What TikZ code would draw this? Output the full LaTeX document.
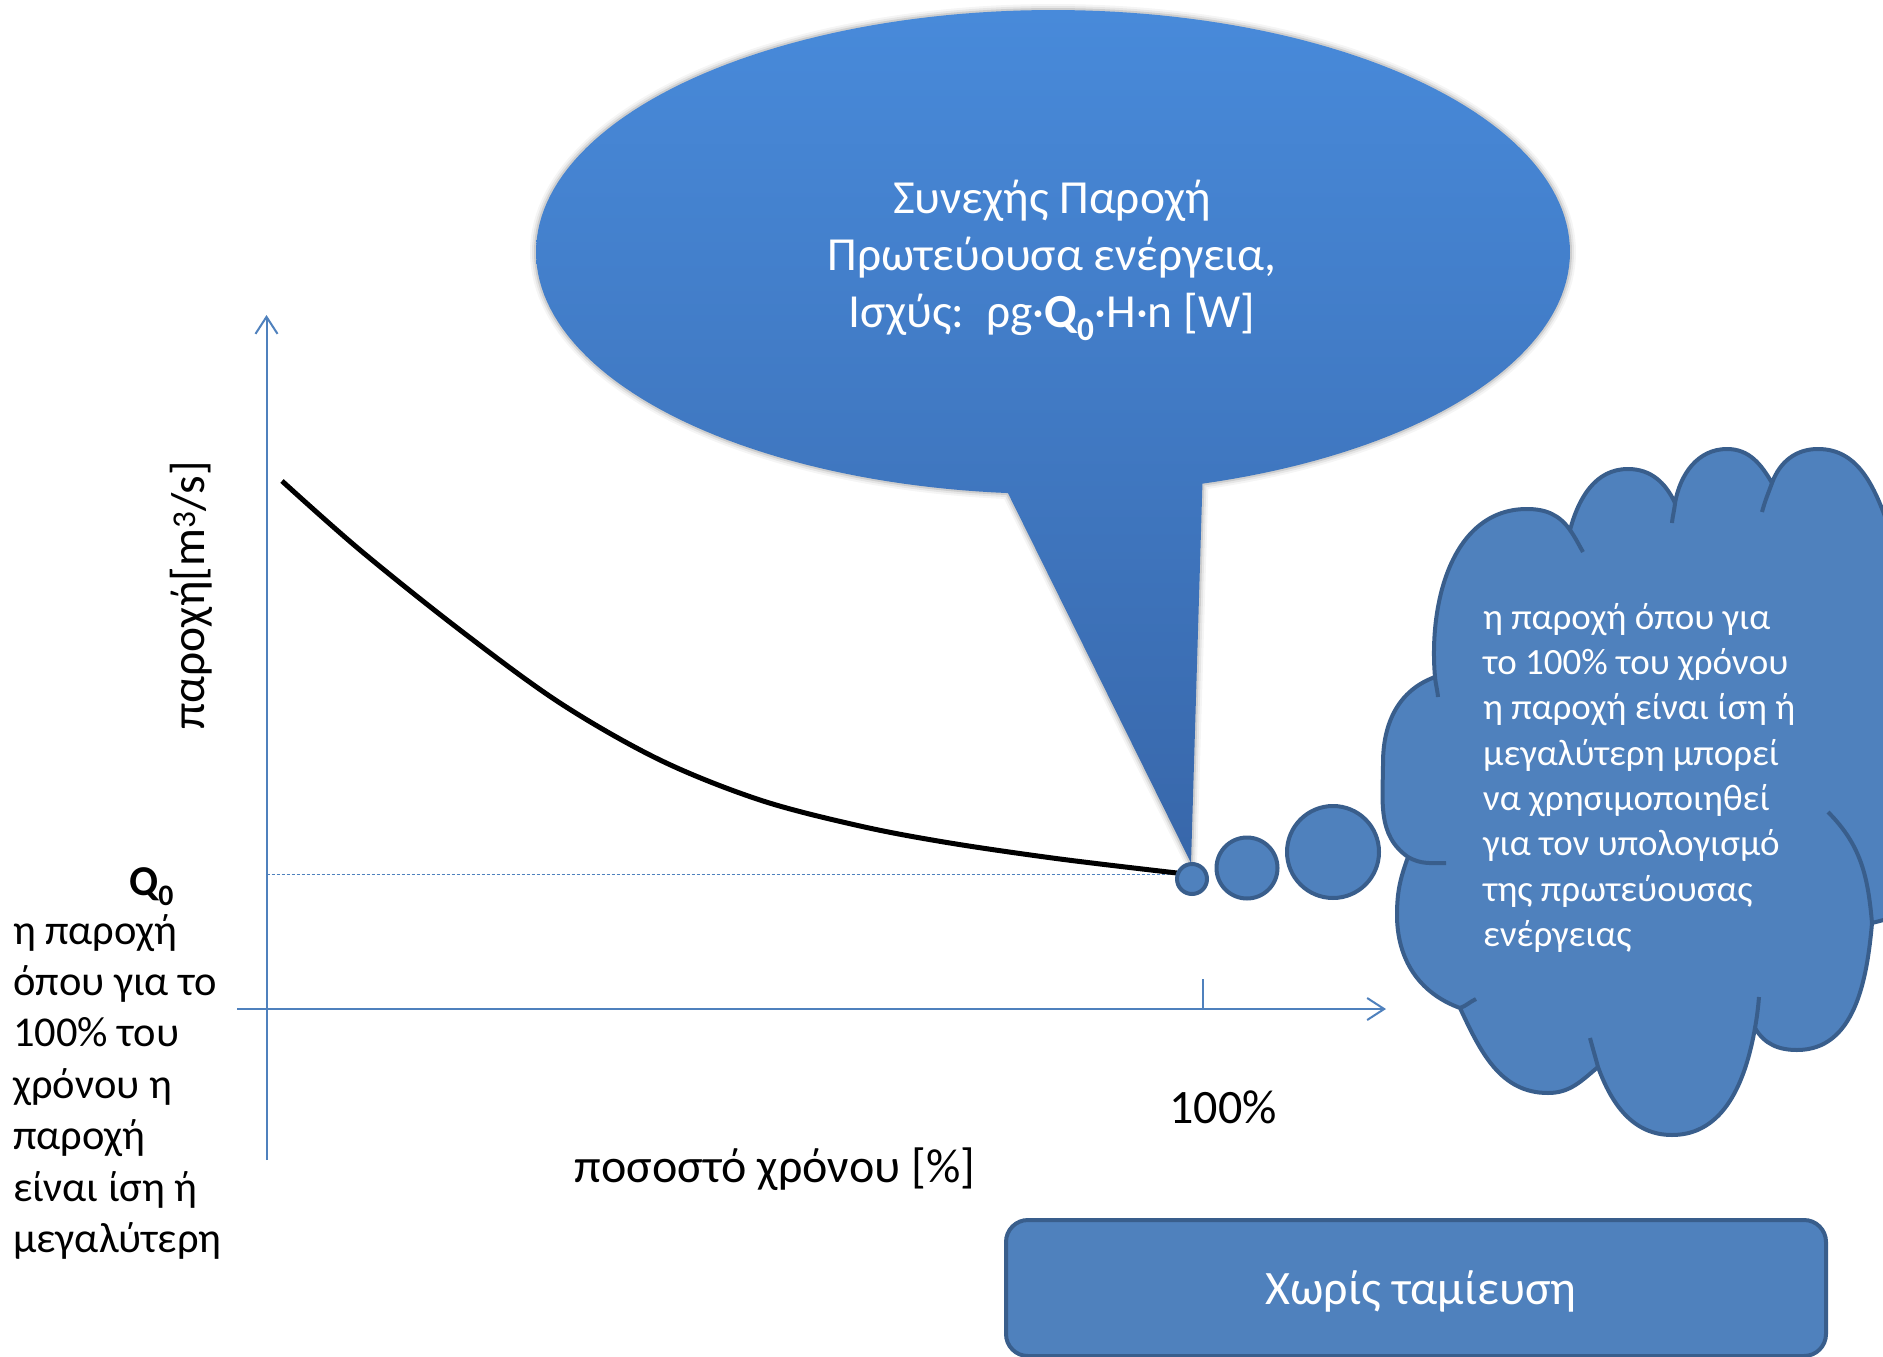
\documentclass[tikz,border=0pt]{standalone}
\usepackage{fontspec}
\setmainfont{Carlito}
\usetikzlibrary{arrows.meta}
\definecolor{axisblue}{RGB}{79,129,189}
\definecolor{cloudfill}{RGB}{79,129,189}
\definecolor{cloudline}{RGB}{57,94,140}
\definecolor{bubtop}{RGB}{72,138,218}
\definecolor{bubbot}{RGB}{56,103,170}
\newcommand\bubshape[1]{\path[#1] plot[domain=95:433.2,samples=200] ({1053+517*cos(\x)},{-252-242*sin(\x)}) -- (1191,-863) -- cycle;}
\begin{document}
\begin{tikzpicture}[x=1pt,y=1pt,
  axisline/.style={draw=axisblue,line width=2pt},
  axisarrow/.style={-{Straight Barb[length=17pt,width=22pt]}},
  qline/.style={draw=axisblue,line width=1pt,dash pattern=on 3pt off 2pt},
  cloudbody/.style={draw=cloudline,line width=4pt,fill=cloudfill,line join=round},
  cloudinner/.style={draw=cloudline,line width=4pt},
  bubbledot/.style={circle,draw=cloudline,line width=4pt,fill=cloudfill,inner sep=0pt},
  whitetext/.style={text=white,inner sep=0pt},
  blacktext/.style={text=black,inner sep=0pt},
  bigfont/.style={font=\fontsize{48}{57}\selectfont}]
\useasboundingbox (0,0) rectangle (1883,-1357);
\fill[white] (0,0) rectangle (1883,-1357);

% axes
\coordinate (yb) at (266.5,-1160);
\coordinate (yt) at (266.5,-315);
\coordinate (xl) at (237,-1009);
\coordinate (xr) at (1386,-1009);
\coordinate (tk) at (1203,-979);
\coordinate (tkb) at (1203,-1009);
\coordinate (ql) at (266.5,-874);
\coordinate (qr) at (1178,-874);
\draw[axisline,axisarrow] (yb) -- (yt);
\draw[axisline,axisarrow] (xl) -- (xr);
\draw[axisblue,line width=1.5pt] (tkb) -- (tk);
\draw[qline] (ql) -- (qr);

% duration curve
\draw[line width=5pt,black] plot[smooth,tension=0.55] coordinates {(282,-481) (360,-550) (460,-630) (560,-703) (660,-760) (760,-800) (860,-826) (950,-843) (1060,-859) (1177,-873)};

% speech bubble with soft shadow
\bubshape{draw=black,line width=12pt,opacity=0.04,line join=round}
\bubshape{draw=black,line width=8pt,opacity=0.06,line join=round}
\bubshape{draw=black,line width=4pt,opacity=0.10,line join=round}
\bubshape{top color=bubtop,bottom color=bubbot}
\node[whitetext,font=\fontsize{47.5}{57}\selectfont,align=center,anchor=north] (bubtext) at (1052,-180)
  {Συνεχής Παροχή\\Πρωτεύουσα ενέργεια,\\Ισχύς:\ \ ρg·\textbf{Q\textsubscript{0}}·H·n [W]};

% cloud
\draw[cloudbody] (1435,-677) to[out=95,in=180] (1527,-509) to[out=0,in=125] (1570,-530)
  to[out=75,in=180] (1628,-469) to[out=0,in=115] (1675,-503)
  to[out=80,in=180] (1727,-449) to[out=0,in=120] (1772,-483)
  to[out=70,in=180] (1818,-449) to[out=0,in=110] (1890,-530)
  -- (1960,-600) -- (1960,-900) -- (1872,-923)
  to[out=-95,in=0] (1797,-1050) to[out=180,in=-60] (1755,-1028)
  to[out=-100,in=0] (1672,-1135) to[out=180,in=-70] (1598,-1067)
  to[out=-140,in=0] (1548,-1093) to[out=180,in=-65] (1460,-1008)
  to[out=160,in=-90] (1397,-915) to[out=90,in=-110] (1408,-857)
  to[out=145,in=-90] (1383,-763) to[out=90,in=200] (1435,-677) -- cycle;
\draw[cloudinner] (1570,-530) to[out=-55,in=120] (1583,-552);
\draw[cloudinner] (1675,-503) to[out=-95,in=85] (1672,-523);
\draw[cloudinner] (1772,-483) to[out=-110,in=75] (1762,-512);
\draw[cloudinner] (1872,-923) to[out=95,in=-45] (1828,-812);
\draw[cloudinner] (1755,-1028) to[out=80,in=-95] (1759,-997);
\draw[cloudinner] (1598,-1067) to[out=105,in=-75] (1590,-1038);
\draw[cloudinner] (1460,-1008) to[out=20,in=-155] (1476,-999);
\draw[cloudinner] (1408,-857) to[out=-30,in=180] (1446,-863);
\draw[cloudinner] (1435,-677) to[out=-85,in=95] (1438,-697);
\node[whitetext,align=left,anchor=north west,font=\fontsize{37}{45.3}\selectfont] (cloudtext) at (1483,-603)
  {η παροχή όπου για\\το 100\% του χρόνου\\η παροχή είναι ίση ή\\μεγαλύτερη μπορεί\\να χρησιμοποιηθεί\\για τον υπολογισμό\\της πρωτεύουσας\\ενέργειας};

% thought dots
\node[bubbledot,minimum size=30pt] (d1) at (1192,-879) {};
\node[bubbledot,minimum size=61pt] (d2) at (1247,-868) {};
\node[bubbledot,minimum size=92pt] (d3) at (1333,-852) {};

% bottom box
\node[draw=cloudline,line width=4pt,fill=cloudfill,rounded corners=22pt,minimum width=820pt,minimum height=136pt] (nostore) at (1416,-1288) {};
\node[whitetext,bigfont] (nostoretext) at (1421,-1291) {Χωρίς ταμίευση};

% labels
\node[blacktext,bigfont,anchor=base] (p100) at (1223,-1123) {100\%};
\node[blacktext,bigfont,anchor=base] (xlabel) at (775,-1182) {ποσοστό χρόνου [\%]};
\node[blacktext,font=\fontsize{47.5}{57}\selectfont,rotate=90] (ylabel) at (191,-595) {παροχή[m\textsuperscript{3}/s]};
\node[blacktext,anchor=base west,font=\fontsize{42.5}{51.4}\selectfont\bfseries] (q0) at (129,-895) {Q\textsubscript{0}};
\node[blacktext,align=left,anchor=north west,font=\fontsize{42.5}{51.4}\selectfont] (lefttext) at (13,-914)
  {η παροχή\\όπου για το\\100\% του\\χρόνου η\\παροχή\\είναι ίση ή\\μεγαλύτερη};
\end{tikzpicture}
\end{document}
